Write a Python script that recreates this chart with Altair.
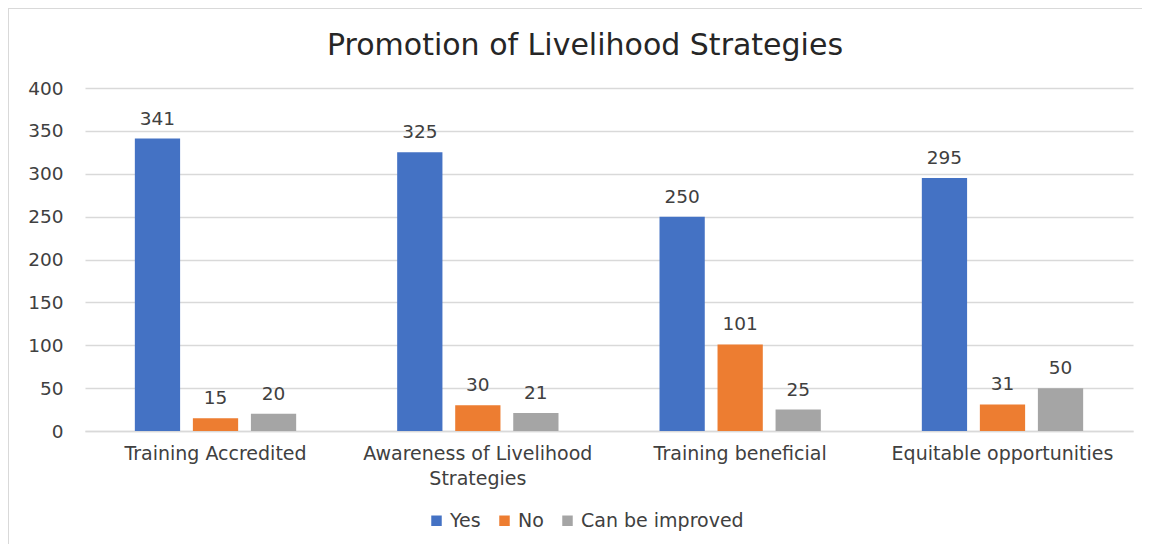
import altair as alt
import pandas as pd

categories = ["Training Accredited", "Awareness of Livelihood Strategies", "Training beneficial", "Equitable opportunities"]
series = ["Yes", "No", "Can be improved"]
yes_vals = [341, 325, 250, 295]
no_vals = [15, 30, 101, 31]
improve_vals = [20, 21, 25, 50]
colors = ["#4472C4", "#ED7D31", "#A5A5A5"]
y_ticks = [0, 50, 100, 150, 200, 250, 300, 350, 400]

rows = []
for i, c in enumerate(categories):
    for s, vals in zip(series, [yes_vals, no_vals, improve_vals]):
        rows.append({"category": c, "series": s, "value": vals[i]})
df = pd.DataFrame(rows)

FONT = "DejaVu Sans"
W, H = 1048, 343

x = alt.X("category:N", sort=categories, title=None,
          scale=alt.Scale(paddingInner=0.385, paddingOuter=0.19),
          axis=alt.Axis(labelAngle=0, labelFontSize=19, labelColor="#404040", labelFont=FONT,
                        labelPadding=13, ticks=False, domainColor="#D9D9D9", domainWidth=1.5,
                        labelLimit=300, labelLineHeight=25,
                        labelExpr="datum.label == 'Awareness of Livelihood Strategies' ? ['Awareness of Livelihood', 'Strategies'] : datum.label"))
xo = alt.XOffset("series:N", sort=series, scale=alt.Scale(paddingInner=0.22, paddingOuter=0))
y = alt.Y("value:Q", title=None,
          scale=alt.Scale(domain=[0, 400], nice=False),
          axis=alt.Axis(values=y_ticks, labelFontSize=18.5, labelColor="#404040", labelFont=FONT,
                        labelPadding=22, ticks=False, domain=False, gridColor="#D9D9D9", gridWidth=1.5))
color = alt.Color("series:N", sort=series, scale=alt.Scale(domain=series, range=colors),
                  legend=alt.Legend(title=None, orient="none", direction="horizontal",
                                    legendX=342, legendY=423, symbolType="square", symbolSize=110,
                                    symbolStrokeWidth=0, labelFontSize=19, labelFont=FONT,
                                    labelLimit=400, labelColor="#404040", columnPadding=14,
                                    labelOffset=4))

border = alt.Chart(pd.DataFrame({"a": [0]})).mark_rect(
    filled=False, stroke="#D9D9D9", strokeWidth=2, clip=False
).encode(x=alt.value(-77), x2=alt.value(W + 60), y=alt.value(-80), y2=alt.value(H + 150))

base = alt.Chart(df).encode(x=x, xOffset=xo, y=y)
bars = base.mark_bar().encode(color=color)
labels = base.mark_text(baseline="bottom", dy=-10, fontSize=18.5, font=FONT, color="#404040").encode(
    text="value:Q")

chart = alt.layer(border, bars, labels).properties(
    width=W, height=H,
    autosize=alt.AutoSizeParams(type="none"),
    padding={"left": 77, "top": 80, "right": 9, "bottom": 113},
    title=alt.Title("Promotion of Livelihood Strategies", fontSize=30, font=FONT, fontWeight="normal",
                    color="#262626", anchor="middle", dx=-24, offset=-54),
).configure_view(stroke=None)

chart.save("out.html", embed_options={"renderer": "svg", "actions": False})
